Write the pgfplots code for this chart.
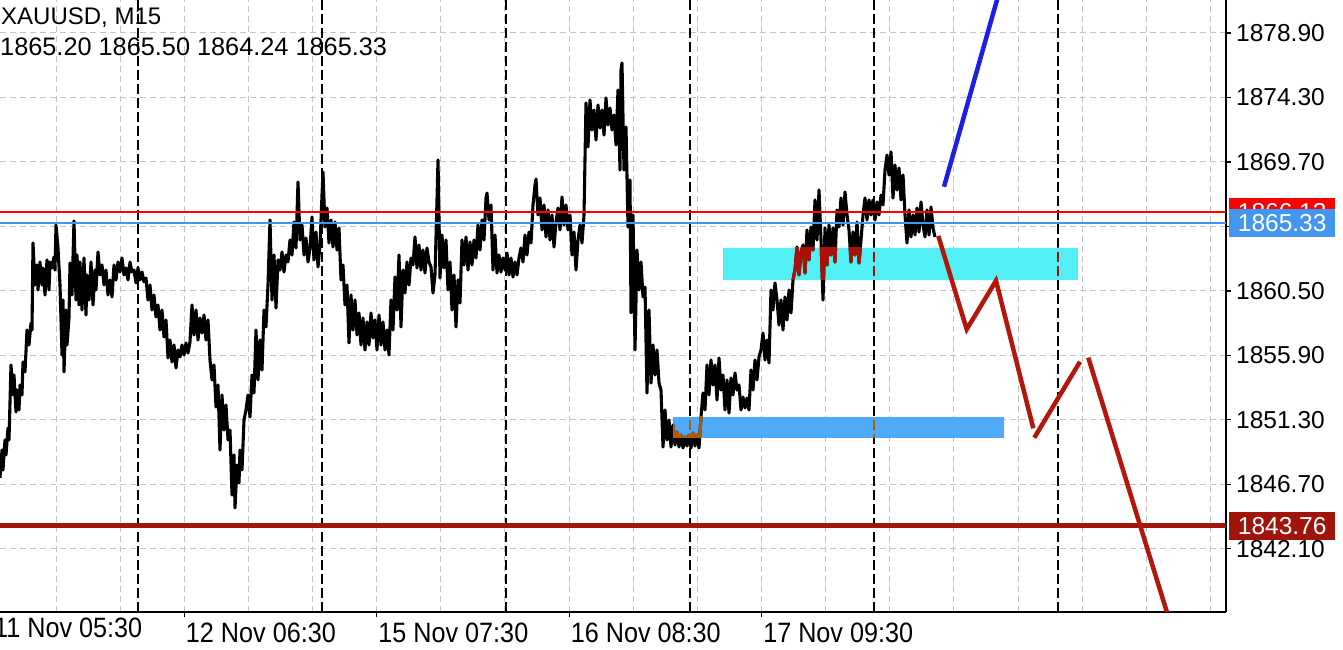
\documentclass[border=0pt]{standalone}
\usepackage{pgfplots}
\pgfplotsset{compat=1.18}
\usepackage{pgfplotstable}
\usepackage{fontspec}
\setmainfont{Liberation Sans}
\newfontfamily\condfont[FakeStretch=0.9]{Liberation Sans}
\definecolor{cyanbox}{HTML}{52F0F5}
\definecolor{bluebox}{HTML}{50AAFA}
\definecolor{bidblue}{HTML}{4296F0}
\definecolor{darkred}{HTML}{A0140A}
\definecolor{zigred}{HTML}{B4160C}
\definecolor{trendblue}{HTML}{1E1EE6}
\definecolor{ovred}{HTML}{AA1005}
\definecolor{ovorange}{HTML}{B35900}
\definecolor{gridgray}{HTML}{C4C4C4}

\pgfplotstableread{
x y
0 1847.16
2 1849.15
3 1847.73
5 1849.87
6 1848.80
8 1850.72
9 1849.87
11 1855.22
13 1853.08
14 1854.50
16 1851.86
17 1853.43
19 1852.01
20 1853.79
22 1853.08
23 1855.43
25 1854.72
27 1857.71
29 1856.64
31 1858.21
32 1857.71
33 1863.92
35 1860.92
37 1862.35
38 1860.57
40 1862.56
42 1860.92
43 1862.14
45 1860.21
47 1862.71
49 1860.57
50 1862.56
52 1862.14
54 1862.92
55 1861.99
56 1865.20
58 1863.56
60 1860.92
62 1855.93
63 1859.85
64 1854.72
66 1859.14
67 1856.64
69 1858.57
70 1862.49
72 1860.21
74 1865.49
76 1859.85
77 1863.06
79 1859.50
80 1862.56
82 1859.14
84 1862.85
86 1858.78
87 1861.64
89 1859.85
91 1862.56
93 1859.50
95 1861.99
96 1860.57
98 1863.28
100 1861.64
102 1862.35
104 1860.92
106 1861.99
108 1860.21
110 1861.28
112 1860.07
114 1862.35
116 1861.28
118 1862.56
120 1861.85
122 1862.85
124 1861.64
126 1862.14
128 1861.28
130 1862.56
132 1861.85
134 1861.99
136 1861.07
138 1862.14
140 1861.28
142 1861.85
144 1861.14
146 1861.42
148 1859.85
150 1860.92
152 1859.14
154 1860.21
156 1858.64
158 1859.50
160 1857.71
162 1859.14
164 1857.21
166 1858.43
168 1855.72
170 1857.00
172 1855.43
174 1856.64
176 1855.00
178 1856.29
180 1855.79
182 1856.64
184 1855.93
186 1856.79
188 1856.07
190 1856.86
192 1859.50
194 1857.36
196 1859.14
198 1857.00
200 1858.57
202 1857.50
204 1858.78
206 1857.00
208 1858.43
210 1855.57
212 1854.15
214 1855.22
216 1852.22
218 1853.79
220 1849.15
222 1853.08
224 1850.58
226 1852.36
228 1849.87
230 1850.58
232 1845.94
234 1848.80
235 1845.02
237 1848.08
239 1846.80
240 1849.15
242 1847.73
244 1851.29
246 1852.01
248 1853.08
250 1851.51
252 1854.50
254 1853.22
256 1857.71
258 1854.15
260 1857.00
262 1854.86
264 1859.14
266 1857.93
268 1860.92
270 1865.56
272 1859.85
274 1863.06
276 1859.28
278 1862.71
280 1861.99
282 1863.28
284 1861.85
286 1863.06
288 1862.56
290 1864.13
292 1863.06
294 1865.42
296 1863.56
298 1868.27
300 1864.13
302 1865.20
304 1863.06
306 1864.28
308 1862.56
310 1863.56
312 1865.77
314 1862.71
316 1864.70
318 1862.21
320 1863.78
322 1867.34
323 1868.98
325 1865.06
327 1866.41
329 1863.92
331 1865.56
333 1863.63
335 1865.42
337 1863.42
339 1864.99
341 1861.28
343 1862.35
345 1859.50
347 1860.92
349 1856.79
351 1860.21
353 1857.71
355 1859.85
357 1857.36
359 1858.93
361 1856.64
363 1858.57
365 1856.29
367 1858.28
369 1856.64
371 1858.93
373 1857.14
375 1858.43
377 1856.29
379 1858.78
381 1856.64
383 1858.28
385 1856.29
387 1857.71
389 1855.93
391 1859.85
393 1857.71
395 1861.49
397 1859.14
399 1863.06
401 1857.93
403 1861.99
405 1860.35
407 1862.56
409 1860.92
411 1862.85
413 1862.35
415 1864.35
417 1862.14
419 1863.78
421 1861.99
423 1863.42
425 1861.78
427 1863.56
429 1862.56
431 1862.21
433 1860.35
435 1861.64
437 1866.99
438 1869.84
440 1861.42
442 1864.49
444 1862.14
446 1864.13
448 1860.57
450 1862.56
452 1859.14
454 1861.64
456 1857.93
458 1861.28
460 1859.64
462 1864.13
464 1862.35
466 1864.35
468 1861.99
470 1863.99
472 1862.35
474 1864.13
476 1862.85
478 1865.20
480 1863.42
482 1865.56
484 1864.13
486 1867.13
487 1867.48
489 1865.56
491 1866.63
493 1861.99
495 1864.49
497 1861.78
499 1863.06
501 1861.85
503 1862.85
505 1861.99
507 1863.21
509 1861.64
511 1862.85
513 1861.49
515 1862.56
517 1861.64
519 1862.85
521 1863.56
523 1862.56
525 1864.49
527 1863.06
529 1864.70
531 1863.92
533 1866.63
535 1868.05
536 1868.48
538 1865.92
540 1867.13
542 1864.85
544 1866.63
546 1864.35
548 1866.27
550 1864.13
552 1865.92
554 1863.63
556 1865.42
558 1866.41
560 1864.85
562 1867.20
564 1865.20
566 1866.63
568 1864.85
570 1865.92
572 1863.06
574 1864.70
576 1861.99
578 1864.13
580 1865.20
582 1863.92
584 1865.92
586 1873.90
588 1870.77
590 1874.12
592 1871.98
594 1873.40
596 1871.26
598 1873.76
600 1872.12
602 1873.40
604 1871.62
606 1874.26
608 1872.33
610 1873.55
612 1871.98
614 1873.05
616 1870.91
618 1874.83
620 1869.12
621 1876.26
622 1876.76
624 1869.12
626 1872.19
628 1865.06
630 1868.41
631 1858.93
633 1865.92
635 1856.29
637 1863.42
639 1860.57
641 1862.56
643 1860.07
645 1860.78
647 1853.22
649 1859.14
651 1853.93
653 1856.64
655 1854.50
657 1856.29
659 1853.93
661 1853.43
663 1849.37
665 1852.01
667 1849.87
669 1851.29
671 1849.37
673 1850.94
675 1849.51
677 1850.44
679 1849.37
681 1850.22
683 1849.30
685 1850.08
687 1849.44
689 1850.22
691 1849.30
693 1850.37
695 1849.44
697 1850.22
699 1849.30
701 1851.51
703 1853.22
705 1852.01
707 1855.22
709 1853.08
711 1855.57
713 1853.79
715 1855.22
717 1852.72
719 1855.72
721 1853.43
723 1854.50
725 1852.01
727 1854.15
729 1851.79
731 1854.29
733 1853.08
735 1854.65
737 1853.43
739 1853.79
741 1852.01
743 1852.93
745 1852.15
747 1852.86
749 1852.01
751 1854.86
753 1853.43
755 1855.57
757 1854.15
759 1855.79
761 1856.29
763 1857.50
765 1855.57
767 1857.00
769 1855.36
771 1860.57
773 1859.14
775 1861.07
777 1859.85
779 1858.07
781 1859.85
783 1857.71
785 1860.07
787 1858.43
789 1860.57
791 1858.93
793 1861.28
795 1861.99
797 1863.63
799 1861.64
801 1863.28
803 1863.78
805 1861.78
807 1864.85
809 1862.71
811 1865.06
813 1863.42
815 1866.99
817 1864.13
819 1867.70
821 1864.13
823 1859.85
825 1864.99
827 1862.35
829 1865.20
831 1863.06
833 1864.99
835 1862.56
837 1866.27
839 1865.06
841 1867.13
843 1865.20
845 1867.56
847 1865.92
849 1864.85
851 1862.56
853 1864.70
855 1863.06
857 1865.42
859 1862.49
861 1864.13
863 1865.92
865 1867.13
867 1865.56
869 1866.99
871 1865.92
873 1866.99
875 1865.56
877 1866.84
879 1865.92
881 1867.34
883 1866.63
885 1869.12
887 1870.19
889 1868.77
891 1870.41
893 1867.13
895 1869.48
897 1867.70
899 1869.27
901 1866.99
903 1868.77
905 1865.92
907 1863.92
909 1866.27
911 1864.35
913 1865.92
915 1864.49
917 1866.41
919 1864.70
921 1866.84
923 1865.20
925 1864.35
927 1866.27
929 1864.49
931 1866.49
933 1864.99
935 1864.35
}\pricetable

\pgfplotsset{
  overlayaxis/.style={scale only axis, hide axis, clip=true, anchor=south west},
  pricestyle/.style={line width=3.1pt, line join=round},
  sepstyle/.style={line width=2pt, dash pattern=on 10pt off 4pt},
}

\begin{document}
\begin{tikzpicture}
\path[use as bounding box] (0pt,-38pt) rectangle (1343pt,612pt);
\begin{axis}[
  at={(0pt,0pt)}, anchor=south west,
  scale only axis, width=1226pt, height=612pt,
  xmin=0, xmax=1226, ymin=1837.598, ymax=1881.25,
  axis x line*=bottom, axis y line*=right,
  axis line style={black, line width=1.3pt},
  grid=both,
  major grid style={gridgray, line width=1pt, dash pattern=on 6pt off 4pt},
  minor grid style={gridgray, line width=1pt, dash pattern=on 6pt off 4pt},
  xtick={184.28,376.70,569.12,761.54},
  xticklabels={12 Nov 06:30,15 Nov 07:30,16 Nov 08:30,17 Nov 09:30},
  minor xtick={56,120.14,248.42,312.56,440.84,504.98,633.26,697.40,825.68,889.82,953.96,1018.10,1082.24,1146.38,1210.52},
  ytick={1842.1,1846.7,1851.3,1855.9,1860.5,1865.1,1869.7,1874.3,1878.9},
  yticklabels={1842.10,1846.70,1851.30,1855.90,1860.50,,1869.70,1874.30,1878.90},
  tick align=outside, major tick length=5pt, minor tick length=0pt,
  tick style={black, line width=1.2pt},
  x tick label style={font=\condfont\fontsize{28}{32}\selectfont, anchor=north west, inner sep=0pt, yshift=-6pt, xshift=1.5pt},
  y tick label style={font=\fontsize{24.5}{28}\selectfont, anchor=west, inner sep=0pt, xshift=5pt},
  clip=true,
]
% rectangles
\addplot[fill=cyanbox, draw=none] coordinates {(723,1861.278) (1078,1861.278) (1078,1863.561) (723,1863.561) (723,1861.278)};
\addplot[fill=bluebox, draw=none] coordinates {(673,1850.009) (1004,1850.009) (1004,1851.506) (673,1851.506) (673,1850.009)};
% day separators
\addplot[black, sepstyle] coordinates {(137.6,1837.6) (137.6,1881.25)};
\addplot[black, sepstyle] coordinates {(321.7,1837.6) (321.7,1881.25)};
\addplot[black, sepstyle] coordinates {(505.8,1837.6) (505.8,1881.25)};
\addplot[black, sepstyle] coordinates {(689.9,1837.6) (689.9,1881.25)};
\addplot[black, sepstyle] coordinates {(874.0,1837.6) (874.0,1881.25)};
\addplot[black, sepstyle] coordinates {(1058.1,1837.6) (1058.1,1881.25)};
% price
\addplot[black, pricestyle] table {\pricetable};
% horizontal levels
\addplot[red, line width=2pt] coordinates {(0,1866.13) (1226,1866.13)};
\addplot[bidblue, line width=2pt] coordinates {(0,1865.33) (1226,1865.33)};
\addplot[darkred, line width=5pt] coordinates {(0,1843.76) (1226,1843.76)};
% projections
\addplot[trendblue, line width=4.5pt] coordinates {(944,1867.93) (999.8,1881.96)};
\addplot[zigred, line width=4.5pt, line join=miter] coordinates {(938.3,1864.42) (966.7,1857.76) (996,1861.23) (1033.3,1850.70)};
\addplot[zigred, line width=4.5pt] coordinates {(1034.3,1850.03) (1080,1855.45)};
\addplot[zigred, line width=4.5pt] coordinates {(1088.3,1855.74) (1171.6,1836.5)};
% header text
\node[anchor=base west, inner sep=0pt, font=\fontsize{24}{28}\selectfont] at (axis cs:1,1879.47) {XAUUSD, M15};
\node[anchor=base west, inner sep=0pt, font=\fontsize{25.3}{29}\selectfont] at (axis cs:0,1877.26) {1865.20 1865.50 1864.24 1865.33};
\coordinate (lvred) at (axis cs:1226,1866.13);
\coordinate (lvbid) at (axis cs:1226,1865.33);
\coordinate (lvdark) at (axis cs:1226,1843.76);
\coordinate (firstlab) at (axis cs:-6,1837.598);
\end{axis}
% coloured overlays inside the zones
\begin{axis}[overlayaxis, at={(723pt,332pt)}, width=355pt, height=32pt,
  xmin=723, xmax=1078, ymin=1861.278, ymax=1863.561]
\addplot[ovred, pricestyle] table {\pricetable};
\addplot[ovred, sepstyle] coordinates {(874.0,1837.6) (874.0,1881.25)};
\addplot[ovred, sepstyle] coordinates {(1058.1,1837.6) (1058.1,1881.25)};
\end{axis}
\begin{axis}[overlayaxis, at={(673pt,174pt)}, width=331pt, height=21pt,
  xmin=673, xmax=1004, ymin=1850.009, ymax=1851.506]
\addplot[ovorange, pricestyle] table {\pricetable};
\addplot[ovorange, sepstyle] coordinates {(689.9,1837.6) (689.9,1881.25)};
\addplot[ovorange, sepstyle] coordinates {(874.0,1837.6) (874.0,1881.25)};
\end{axis}
% price labels on the scale
\node[fill=red, text=white, minimum width=106pt, minimum height=28pt, inner sep=0pt, anchor=west, font=\fontsize{24.5}{28}\selectfont] at ([xshift=3pt]lvred) {1866.13};
\node[fill=bidblue, text=white, minimum width=106pt, minimum height=28pt, inner sep=0pt, anchor=west, font=\fontsize{24.5}{28}\selectfont] at ([xshift=3pt]lvbid) {1865.33};
\node[fill=darkred, text=white, minimum width=106pt, minimum height=28pt, inner sep=0pt, anchor=west, font=\fontsize{24.5}{28}\selectfont] at ([xshift=3pt]lvdark) {1843.76};
\node[anchor=north west, inner sep=0pt, yshift=-6pt, font=\condfont\fontsize{28}{32}\selectfont] at (firstlab) {11 Nov 05:30};
\end{tikzpicture}
\end{document}
